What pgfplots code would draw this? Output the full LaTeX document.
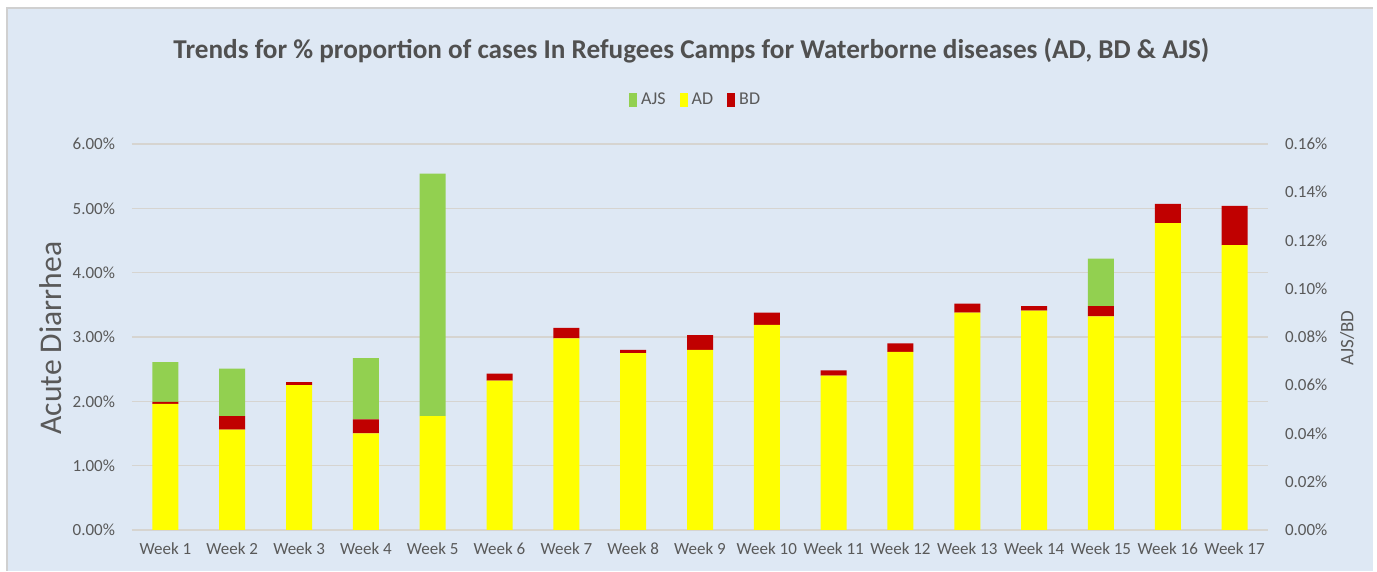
\documentclass[border=0pt]{standalone}
\usepackage{pgfplots}
\usepackage{pgfplotstable}
\pgfplotsset{compat=1.18}
\usepackage{fontspec}
\setmainfont{Carlito}
\definecolor{bgblue}{HTML}{DEE8F4}
\definecolor{txtgray}{HTML}{595959}
\definecolor{titlegray}{HTML}{505050}
\definecolor{gridc}{HTML}{D6D4D0}
\definecolor{framec}{HTML}{D0D0D0}
\definecolor{adyellow}{HTML}{FFFF00}
\definecolor{bdred}{HTML}{C00000}
\definecolor{ajsgreen}{HTML}{92D050}

\pgfplotstableread{
x ad bd ajs
0 1.96 0.03 0.62
1 1.56 0.21 0.74
2 2.25 0.05 0
3 1.50 0.22 0.95
4 1.77 0 3.77
5 2.32 0.11 0
6 2.98 0.16 0
7 2.75 0.05 0
8 2.80 0.23 0
9 3.19 0.19 0
10 2.40 0.08 0
11 2.77 0.13 0
12 3.38 0.14 0
13 3.41 0.07 0
14 3.32 0.16 0.74
15 4.77 0.30 0
16 4.43 0.61 0
}\data

\begin{document}
\begin{tikzpicture}
\fill[white] (-66pt,-20.5pt) rectangle (622.5pt,265pt);
\fill[bgblue] (-62.5pt,-20.5pt) rectangle (620.5pt,261pt);
\draw[framec, line width=0.8pt] (-62.5pt,-20.5pt) -- (-62.5pt,261pt) -- (620.5pt,261pt);
\begin{axis}[
  at={(0,0)}, anchor=south west,
  scale only axis, width=568pt, height=193pt,
  ybar stacked, bar width=13pt,
  xmin=-0.5, xmax=16.5, ymin=0, ymax=6,
  xtick={0,...,16},
  xticklabels={Week 1,Week 2,Week 3,Week 4,Week 5,Week 6,Week 7,Week 8,Week 9,Week 10,Week 11,Week 12,Week 13,Week 14,Week 15,Week 16,Week 17},
  ytick={0,1,2,3,4,5,6},
  yticklabel={\pgfmathprintnumber[fixed,fixed zerofill,precision=2]{\tick}\%},
  /pgf/number format/assume math mode=true,
  ymajorgrids, major grid style={gridc, line width=0.8pt},
  axis line style={draw=none},
  major tick length=0pt,
  tick label style={font=\fontsize{8.5}{10}\selectfont, text=txtgray},
  yticklabel style={xshift=-5pt},
  xticklabel style={yshift=-3pt},
  ylabel={Acute Diarrhea},
  ylabel style={at={(axis description cs:-0.0713,0.497)}, anchor=center, font=\fontsize{15.8}{18}\selectfont, text=txtgray},
  title={Trends for \% proportion of cases In Refugees Camps for Waterborne diseases (AD, BD \& AJS)},
  title style={at={(axis description cs:0.4925,1.21)}, anchor=center, font=\bfseries\fontsize{13.6}{15}\selectfont, text=titlegray},
  legend style={at={(axis description cs:0.497,1.114)}, anchor=center, draw=none, fill=none, legend columns=3,
    font=\fontsize{9}{10}\selectfont, text=txtgray, /tikz/every even column/.append style={column sep=5pt}},
  legend image code/.code={\fill[#1] (0pt,-3.5pt) rectangle (4pt,3.5pt);},
]
\addplot[fill=adyellow, draw=none, forget plot] table[x=x, y=ad] {\data};
\addplot[fill=bdred, draw=none, forget plot] table[x=x, y=bd] {\data};
\addplot[fill=ajsgreen, draw=none, forget plot] table[x=x, y=ajs] {\data};
\addlegendimage{fill=ajsgreen, draw=none}
\addlegendentry{AJS}
\addlegendimage{fill=adyellow, draw=none}
\addlegendentry{AD}
\addlegendimage{fill=bdred, draw=none}
\addlegendentry{BD}
\end{axis}
\begin{axis}[
  at={(0,0)}, anchor=south west,
  scale only axis, width=568pt, height=193pt,
  xmin=-0.5, xmax=16.5, ymin=0, ymax=0.16,
  axis x line=none, axis y line*=right,
  axis line style={draw=none},
  ytick={0,0.02,0.04,0.06,0.08,0.10,0.12,0.14,0.16},
  yticklabel={\pgfmathprintnumber[fixed,fixed zerofill,precision=2]{\tick}\%},
  /pgf/number format/assume math mode=true,
  major tick length=0pt,
  tick label style={font=\fontsize{8.5}{10}\selectfont, text=txtgray},
  yticklabel style={xshift=5pt},
  ylabel={AJS/BD},
  ylabel style={at={(axis description cs:1.0696,0.497)}, anchor=center, rotate=0, font=\fontsize{9.5}{10}\selectfont, text=txtgray},
]
\end{axis}
\end{tikzpicture}
\end{document}
